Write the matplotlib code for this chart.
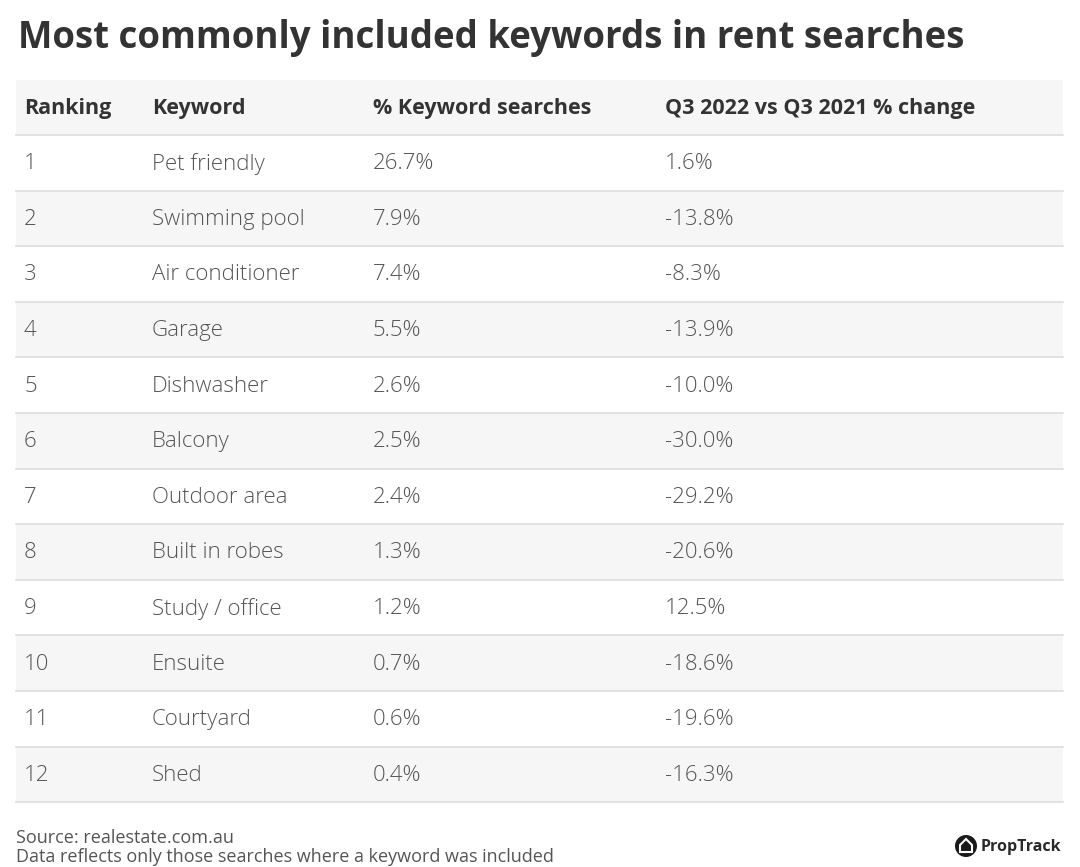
import matplotlib.pyplot as plt
from matplotlib.patches import Rectangle, Circle, Polygon

plt.rcParams['font.family'] = ['Open Sans', 'DejaVu Sans']

# Datos de la tabla
columnas = ["Ranking", "Keyword", "% Keyword searches", "Q3 2022 vs Q3 2021 % change"]
ranking = [1, 2, 3, 4, 5, 6, 7, 8, 9, 10, 11, 12]
keywords = ["Pet friendly", "Swimming pool", "Air conditioner", "Garage", "Dishwasher",
            "Balcony", "Outdoor area", "Built in robes", "Study / office", "Ensuite",
            "Courtyard", "Shed"]
pct_busquedas = [26.7, 7.9, 7.4, 5.5, 2.6, 2.5, 2.4, 1.3, 1.2, 0.7, 0.6, 0.4]
cambio = [1.6, -13.8, -8.3, -13.9, -10.0, -30.0, -29.2, -20.6, 12.5, -18.6, -19.6, -16.3]

W, H = 1080, 867
fig = plt.figure(figsize=(W / 100, H / 100), dpi=100)
ax = fig.add_axes([0, 0, 1, 1])
ax.set_xlim(0, W)
ax.set_ylim(H, 0)
ax.axis("off")

x0, x1 = 16, 1063
top = 80
header_h = 55
row_h = 55.6
col_x = [24, 152, 373, 665]
gris = "#f6f6f6"
linea = "#dddddd"

ax.text(18, 38, "Most commonly included keywords in rent searches", fontsize=26.4,
        fontweight="bold", color="#333333", va="center", ha="left")

# Cabecera
ax.add_patch(Rectangle((x0, top), x1 - x0, header_h, facecolor=gris, edgecolor="none"))
for x, c in zip(col_x, columnas):
    ax.text(x, top + header_h / 2 + 1, c, fontsize=15.5, fontweight="bold",
            color="#333333", va="center", ha="left")

# Filas
for i in range(len(ranking)):
    y = top + header_h + i * row_h
    if i % 2 == 1:
        ax.add_patch(Rectangle((x0, y), x1 - x0, row_h, facecolor=gris, edgecolor="none"))
    ax.plot([x0, x1], [y, y], color=linea, lw=1.2)
    valores = [str(ranking[i]), keywords[i], f"{pct_busquedas[i]:.1f}%", f"{cambio[i]:.1f}%"]
    for x, v in zip(col_x, valores):
        ax.text(x, y + row_h / 2 + 1, v, fontsize=16, color="#555555",
                fontweight="light", va="center", ha="left")
y_fin = top + header_h + len(ranking) * row_h
ax.plot([x0, x1], [y_fin, y_fin], color=linea, lw=1.2)

# Pie
ax.text(16, 838, "Source: realestate.com.au", fontsize=13, color="#555555", va="center")
ax.text(16, 857, "Data reflects only those searches where a keyword was included",
        fontsize=13, color="#555555", va="center")

# Logo PropTrack
cx, cy = 966, 846
ax.add_patch(Circle((cx, cy), 11, facecolor="#1a1a1a", edgecolor="none"))
ax.add_patch(Polygon([(cx - 6, cy + 6), (cx - 6, cy - 1), (cx, cy - 7), (cx + 6, cy - 1),
                      (cx + 6, cy + 6)], closed=True, facecolor="none",
                     edgecolor="white", lw=1.5))
ax.text(981, 847, "PropTrack", fontsize=11.5, fontweight="bold", color="#2a2a2a", va="center")

fig.savefig("out.png", dpi=100, facecolor="white")
